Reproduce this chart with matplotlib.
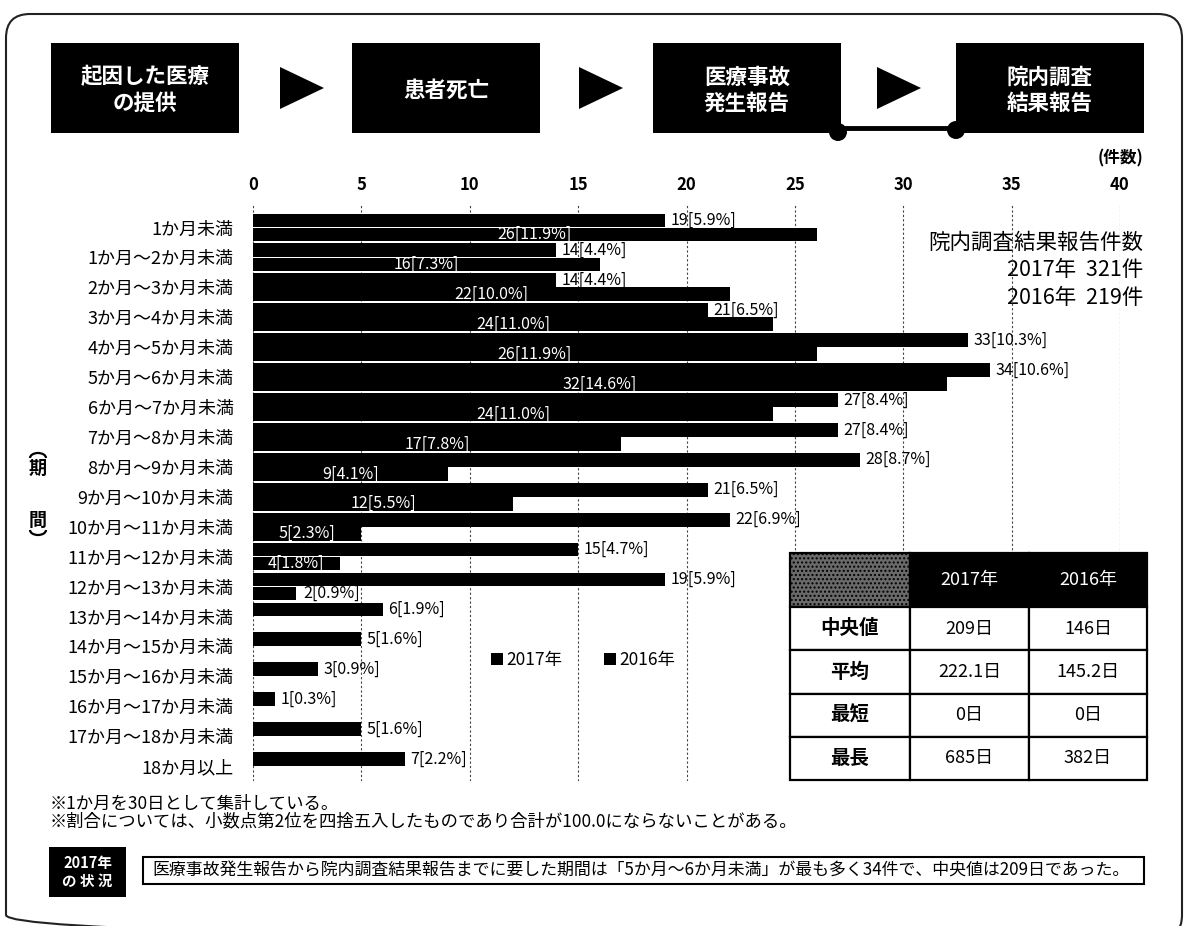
import matplotlib
matplotlib.use('Agg')
import matplotlib.pyplot as plt
from matplotlib.patches import FancyBboxPatch, Rectangle, Polygon, Circle, Patch, Arc
import numpy as np

plt.rcParams['font.family'] = ['Noto Sans CJK JP', 'DejaVu Sans']

# ---- data ----
periods = ['1か月未満', '1か月～2か月未満', '2か月～3か月未満', '3か月～4か月未満',
           '4か月～5か月未満', '5か月～6か月未満', '6か月～7か月未満', '7か月～8か月未満',
           '8か月～9か月未満', '9か月～10か月未満', '10か月～11か月未満', '11か月～12か月未満',
           '12か月～13か月未満', '13か月～14か月未満', '14か月～15か月未満', '15か月～16か月未満',
           '16か月～17か月未満', '17か月～18か月未満', '18か月以上']
count_2017 = [19, 14, 14, 21, 33, 34, 27, 27, 28, 21, 22, 15, 19, 6, 5, 3, 1, 5, 7]
pct_2017 = [5.9, 4.4, 4.4, 6.5, 10.3, 10.6, 8.4, 8.4, 8.7, 6.5, 6.9, 4.7, 5.9, 1.9, 1.6, 0.9, 0.3, 1.6, 2.2]
count_2016 = [26, 16, 22, 24, 26, 32, 24, 17, 9, 12, 5, 4, 2, 0, 0, 0, 0, 0, 0]
pct_2016 = [11.9, 7.3, 10.0, 11.0, 11.9, 14.6, 11.0, 7.8, 4.1, 5.5, 2.3, 1.8, 0.9, 0, 0, 0, 0, 0, 0]
years = ['2017年', '2016年']

flow_steps = ['起因した医療\nの提供', '患者死亡', '医療事故\n発生報告', '院内調査\n結果報告']
summary_lines = ['院内調査結果報告件数', '2017年  321件', '2016年  219件']

stat_names = ['中央値', '平均', '最短', '最長']
stat_2017 = ['209日', '222.1日', '0日', '685日']
stat_2016 = ['146日', '145.2日', '0日', '382日']

notes = ['※1か月を30日として集計している。',
         '※割合については、小数点第2位を四捨五入したものであり合計が100.0にならないことがある。']
status_tag = '2017年\nの 状 況'
status_text = ('医療事故発生報告から院内調査結果報告までに要した期間は「5か月～6か月未満」'
               'が最も多く34件で、中央値は209日であった。')

W, H = 1188, 926
fig = plt.figure(figsize=(W / 100, H / 100), dpi=100)

# decoration layer in pixel coordinates
deco = fig.add_axes([0, 0, 1, 1], zorder=0)
deco.set_xlim(0, W)
deco.set_ylim(H, 0)
deco.axis('off')

deco.add_patch(FancyBboxPatch((6, 14), 1176, 925, boxstyle='round,pad=0,rounding_size=24',
                              fill=False, ec='#222222', lw=1.5))

# flow of steps
box_x = [51, 352, 653, 956]
box_w = 188
for x0, label in zip(box_x, flow_steps):
    deco.add_patch(Rectangle((x0, 43), box_w, 90, fc='black', ec='none'))
    deco.text(x0 + box_w / 2, 90, label, color='white', fontsize=15.5, fontweight='bold',
              ha='center', va='center', linespacing=1.3)
for tx in [280, 579, 877]:
    deco.add_patch(Polygon([(tx, 67), (tx, 109), (tx + 44, 88)], closed=True, fc='black'))
deco.plot([838, 956], [128, 128], color='black', lw=3.5, solid_capstyle='butt')
deco.add_patch(Circle((838, 132), 9, fc='black'))
deco.add_patch(Circle((956, 130), 9, fc='black'))

deco.text(1143, 158, '(件数)', fontsize=12, fontweight='bold', ha='right', va='center')

# summary at right
for k, line in enumerate(summary_lines):
    deco.text(1143, 243 + k * 27.5, line, fontsize=15.5, ha='right', va='center')

# vertical axis title (期間 in vertical brackets)
deco.add_patch(Arc((38, 458), 16, 10, theta1=180, theta2=360, color='black', lw=1.6))
deco.text(38, 468, '期', fontsize=13, ha='center', va='center', fontweight='bold')
deco.text(38, 520, '間', fontsize=13, ha='center', va='center', fontweight='bold')
deco.add_patch(Arc((38, 530), 16, 10, theta1=0, theta2=180, color='black', lw=1.6))

# notes
deco.text(50, 804, notes[0], fontsize=12.5, ha='left', va='center')
deco.text(50, 821, notes[1], fontsize=12.5, ha='left', va='center')

deco.add_patch(Rectangle((49, 847), 77, 50, fc='black', ec='none'))
deco.text(87.5, 872, status_tag, color='white', fontsize=10.5, fontweight='bold',
          ha='center', va='center', linespacing=1.2)
deco.add_patch(Rectangle((143, 857), 1001, 27, fc='white', ec='black', lw=1.5))
deco.text(152, 870.5, status_text, fontsize=12.2, ha='left', va='center')

# ---- main bar chart ----
ax = fig.add_axes([253 / W, 1 - 781 / H, 867 / W, 576 / H], zorder=1)
ax.patch.set_alpha(0)
y = np.arange(len(periods))
bh = 0.46
off = 0.235
ax.barh(y - off, count_2017, height=bh, color='black', zorder=2)
ax.barh(y + off, count_2016, height=bh, color='black', zorder=2)

for i in range(len(periods)):
    ax.annotate(f'{count_2017[i]}[{pct_2017[i]:.1f}%]', (count_2017[i], i - off),
                xytext=(4, 0), textcoords='offset points', ha='left', va='center',
                fontsize=11.5, color='black', zorder=3)
    v = count_2016[i]
    if v == 0:
        continue
    lab = f'{v}[{pct_2016[i]:.1f}%]'
    if v >= 3:
        ax.text(v / 2, i + off, lab, ha='center', va='center', fontsize=11.5,
                color='white', zorder=3)
    else:
        ax.annotate(lab, (v, i + off), xytext=(5, 0), textcoords='offset points',
                    ha='left', va='center', fontsize=11.5, color='black', zorder=3)

ax.set_xlim(0, 40)
ax.set_ylim(len(periods) - 0.5, -0.75)
ax.set_xticks(range(0, 41, 5))
ax.set_yticks(y)
ax.set_yticklabels(periods, fontsize=13)
ax.xaxis.tick_top()
for lbl in ax.get_xticklabels():
    lbl.set_fontweight('bold')
ax.tick_params(axis='x', length=0, pad=8, labelsize=12)
ax.tick_params(axis='y', length=0, pad=14)
ax.grid(axis='x', linestyle=(0, (2, 2)), color='#444444', lw=0.8)
ax.set_axisbelow(True)
for s in ax.spines.values():
    s.set_visible(False)

handles = [Patch(fc='black', ec='none'), Patch(fc='black', ec='none')]
fig.legend(handles, years, loc='center', bbox_to_anchor=(583 / W, 1 - 660 / H), ncol=2,
           frameon=False, fontsize=12.5, handlelength=0.7, handleheight=0.7,
           handletextpad=0.2, columnspacing=2.4)

# ---- statistics table ----
tax = fig.add_axes([790 / W, 1 - 780 / H, 357 / W, 227 / H], zorder=2)
tax.axis('off')
cells = [[''] + years] + [[n, a, b] for n, a, b in zip(stat_names, stat_2017, stat_2016)]
tbl = tax.table(cellText=cells, cellLoc='center', bbox=[0, 0, 1, 1],
                colWidths=[120, 119, 118])
tbl.auto_set_font_size(False)
for (r, c), cell in tbl.get_celld().items():
    cell.set_linewidth(1.6)
    cell.set_edgecolor('black')
    cell.set_height(54 if r == 0 else 43)
    t = cell.get_text()
    t.set_fontsize(13)
    if r == 0:
        if c == 0:
            cell.set_facecolor('#6a6a6a')
            cell.set_hatch('....')
        else:
            cell.set_facecolor('black')
            t.set_color('white')
    elif c == 0:
        t.set_fontweight('bold')
        t.set_fontsize(14)

fig.savefig('out.png', dpi=100, facecolor='white')
